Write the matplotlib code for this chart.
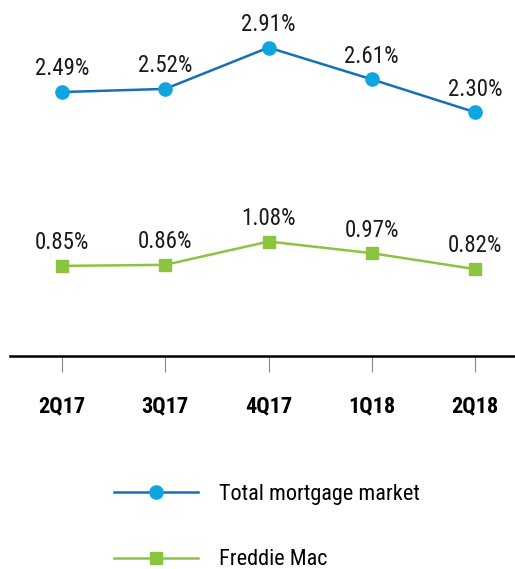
import matplotlib
matplotlib.use('Agg')
import matplotlib.pyplot as plt
from matplotlib.lines import Line2D

plt.rcParams['font.family'] = ['Roboto Condensed', 'Liberation Sans Narrow', 'Nimbus Sans Narrow',
                               'Archivo Narrow', 'DejaVu Sans']

quarters = ['2Q17', '3Q17', '4Q17', '1Q18', '2Q18']
total_market = [2.49, 2.52, 2.91, 2.61, 2.30]
freddie_mac = [0.85, 0.86, 1.08, 0.97, 0.82]

blue_line = '#1570b8'
blue_dot = '#0ea5e0'
green = '#8cc43f'

fig = plt.figure(figsize=(5.15, 5.69), dpi=100)
# axes: x from 10px to 515px, y from 356px (value 0) upwards
ax = fig.add_axes([10/515, 1-356/569, 505/515, 320/569])
x = list(range(len(quarters)))

ax.plot(x, total_market, color=blue_line, lw=1.8, marker='o', ms=9.5,
        mfc=blue_dot, mec=blue_dot, zorder=3, clip_on=False)
ax.plot(x, freddie_mac, color=green, lw=1.8, marker='s', ms=9,
        mfc=green, mec=green, zorder=3, clip_on=False)

for xi, v in zip(x, total_market):
    ax.annotate(f'{v:.2f}%', (xi, v), xytext=(0, 12), textcoords='offset points',
                ha='center', va='baseline', fontsize=16.5, color='#1a1a1a')
for xi, v in zip(x, freddie_mac):
    ax.annotate(f'{v:.2f}%', (xi, v), xytext=(0, 12), textcoords='offset points',
                ha='center', va='baseline', fontsize=16.5, color='#1a1a1a')

ax.set_xlim(-0.504, 4.387)
ax.set_ylim(0, 320/106)
ax.set_yticks([])
for s in ['top', 'right', 'left']:
    ax.spines[s].set_visible(False)
ax.spines['bottom'].set_linewidth(1.8)
ax.spines['bottom'].set_color('black')
ax.set_xticks(x)
ax.set_xticklabels(quarters, fontsize=16, fontweight='bold')
ax.tick_params(axis='x', length=11.5, width=0.8, color='#888888', pad=16.5)

handles = [
    Line2D([], [], color=blue_line, lw=1.8, marker='o', ms=9.5, mfc=blue_dot, mec=blue_dot),
    Line2D([], [], color=green, lw=1.8, marker='s', ms=9, mfc=green, mec=green),
]
fig.legend(handles, ['Total mortgage market', 'Freddie Mac'],
           loc='upper left', bbox_to_anchor=(105/515, 1-475/569),
           frameon=False, fontsize=16, handlelength=3.8, handletextpad=0.95,
           labelspacing=2.0, borderaxespad=0)

fig.savefig('out.png', dpi=100)
